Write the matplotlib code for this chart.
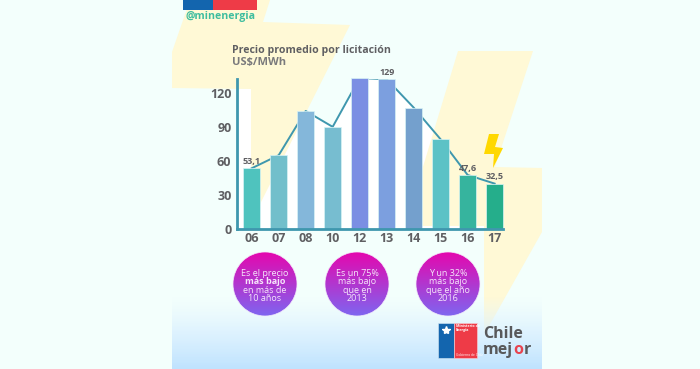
import matplotlib
matplotlib.use('Agg')
import matplotlib.pyplot as plt
from matplotlib.colors import LinearSegmentedColormap
from matplotlib.patches import Circle, Polygon, Rectangle
import numpy as np

W, H = 700, 369

years = ['06', '07', '08', '10', '12', '13', '14', '15', '16', '17']
heights = [53.5, 65, 104, 90, 133, 132, 107, 79, 47.6, 40]
bar_colors = ['#4FC3BE', '#72BFCB', '#84B7DA', '#77BDD0', '#7B8FE3',
              '#7C9FDF', '#74A0CD', '#5CC2C6', '#36B49E', '#25AE8B']
value_labels = ['53,1', '', '', '', '', '129', '', '', '47,6', '32,5']
y_ticks = [0, 30, 60, 90, 120]
circle_texts = [
    ['Es el precio', 'más bajo', 'en más de', '10 años'],
    ['Es un 75%', 'más bajo', 'que en', '2013'],
    ['Y un 32%', 'más bajo', 'que el año', '2016'],
]

GRAY = '#5F5F62'
TEAL = '#3F97AE'
plt.rcParams['font.family'] = ['Open Sans', 'DejaVu Sans']

fig = plt.figure(figsize=(7, 3.69), dpi=100, facecolor='#F3FFFC')

# fondo en pixeles, y hacia abajo
bg = fig.add_axes([0, 0, 1, 1], zorder=0)
bg.set_xlim(0, W)
bg.set_ylim(H, 0)
bg.axis('off')

# parte blanca detras del eje y
bg.add_patch(Rectangle((238, 89), 14, 140, fc='white', ec='none', zorder=1))

# area blanca debajo de la linea
x_px = 251.7 + 27 * np.arange(len(years))
y_px = 229 - 1.135 * np.array(heights)
bg.fill_between(x_px, y_px, 229, color='white', lw=0, zorder=1)

# rayos amarillos
yellow = '#FFF9D6'
bg.add_patch(Polygon([(190, 0), (270, 0), (263, 22), (350, 25), (251, 222), (251, 89),
                      (172, 88), (172, 52)], fc=yellow, ec='none', zorder=2))
bg.add_patch(Polygon([(458, 51), (533, 51), (495, 167), (542, 168), (542, 232),
                      (484, 335), (484, 226), (422, 226), (422, 170)],
                     fc=yellow, ec='none', zorder=2))

# degradado de abajo
grad_cmap = LinearSegmentedColormap.from_list('g', [(0.9, 0.97, 1, 0), (0.85, 0.94, 1, 0.8), (0.75, 0.89, 1, 1)])
grad = np.linspace(0, 1, 80).reshape(-1, 1)
bg.imshow(grad, extent=(172, 542, 369, 296), cmap=grad_cmap, aspect='auto', zorder=3)
bg.set_xlim(0, W)
bg.set_ylim(H, 0)

# bandera
bg.add_patch(Rectangle((183, 0), 30, 10, fc='#1365AE', ec='none', zorder=4))
bg.add_patch(Rectangle((213, 0), 44, 10, fc='#EE3B47', ec='none', zorder=4))
bg.text(220, 16, '@minenergia', color='#3DBD9F', fontsize=7.6, fontweight='bold',
        ha='center', va='center', zorder=4)

bg.text(232, 51, 'Precio promedio por licitación', color=GRAY, fontsize=7.6,
        fontweight='bold', va='center', zorder=4)
bg.text(232, 63, 'US$/MWh', color='#7A7A7C', fontsize=8, fontweight='bold',
        va='center', zorder=4)

# grafico
ax = fig.add_axes([237 / W, 1 - 229 / H, 266 / W, 150 / H], zorder=2)
ax.patch.set_alpha(0)
ax.set_xlim(-0.544, 9.31)
ax.set_ylim(0, 150 / 1.135)
xs = np.arange(len(years))
ax.plot(xs, heights, color=TEAL, lw=1.4, zorder=1)
ax.bar(xs, heights, width=0.63, color=bar_colors, edgecolor='#D8F3F5', lw=0.5, zorder=2, clip_on=False)
for i, lab in enumerate(value_labels):
    if lab:
        ax.text(i, heights[i] + 2, lab, color=GRAY, fontsize=6.5, fontweight='bold',
                ha='center', va='bottom', zorder=3, clip_on=False)
ax.set_xticks(xs, years)
ax.set_yticks(y_ticks, [str(v) for v in y_ticks])
ax.tick_params(length=0, labelcolor=GRAY, labelsize=9, pad=4)
ax.tick_params(axis='x', pad=2)
for lab in ax.get_xticklabels() + ax.get_yticklabels():
    lab.set_fontweight('bold')
for s in ['top', 'right']:
    ax.spines[s].set_visible(False)
for s in ['left', 'bottom']:
    ax.spines[s].set_color(TEAL)
    ax.spines[s].set_linewidth(2)

# circulos con degradado
circle_cmap = LinearSegmentedColormap.from_list('c', ['#E408AE', '#7F65F0'])
fg = fig.add_axes([0, 0, 1, 1], zorder=3)
fg.set_xlim(0, W)
fg.set_ylim(H, 0)
fg.axis('off')
col = np.linspace(0, 1, 64).reshape(-1, 1)
for cx, lines in zip([265, 357, 448], circle_texts):
    cy, r = 284, 32
    im = fg.imshow(col, extent=(cx - r, cx + r, cy + r, cy - r), cmap=circle_cmap, aspect='auto', zorder=1)
    im.set_clip_path(Circle((cx, cy), r, transform=fg.transData))
    fg.add_patch(Circle((cx, cy), r, fc='none', ec='#F4E9FB', lw=0.5, zorder=2))
    for i, line in enumerate(lines):
        bold = line == 'más bajo' and cx == 265
        fg.text(cx, cy - 11 + i * 8.6, line, color='#F6E6FB', fontsize=6.5,
                fontweight='bold' if bold else 'normal', ha='center', va='center', zorder=3)
fg.set_xlim(0, W)
fg.set_ylim(H, 0)

# rayo pequeno
fg.add_patch(Polygon([(489, 134), (499, 134), (495, 147), (503, 148), (493, 168),
                      (494, 154), (484, 154)], fc='#FFD800', ec='none', zorder=2))

# logo
fg.add_patch(Rectangle((438, 323), 16, 35, fc='#1365AE', ec='#D5E8F5', lw=0.4, zorder=2))
fg.add_patch(Rectangle((454, 323), 23, 35, fc='#EE3B47', ec='#F6D5DA', lw=0.4, zorder=2))
fg.plot([446], [330], marker='*', ms=6, color='white', zorder=3)
fg.text(456, 328, 'Ministerio de\nEnergía', color='white', fontsize=2.6, fontweight='bold', va='center', linespacing=1.1, zorder=3)
fg.text(456, 355, 'Gobierno de Chile', color='white', fontsize=2.3, va='center', zorder=3)
fg.text(483, 334, 'Chile', color='#58595B', fontsize=11.5, fontweight='bold', va='center', zorder=3)

# mejor letra por letra, la o va en rojo
renderer = fig.canvas.get_renderer()
x_now = 483
for part, c in [('mej', '#58595B'), ('o', '#E8434F'), ('r', '#58595B')]:
    t = fg.text(x_now, 350, part, color=c, fontsize=11.5, fontweight='bold', va='center', zorder=3)
    x_now += t.get_window_extent(renderer).width + 0.3

fig.savefig('out.png', dpi=100)
